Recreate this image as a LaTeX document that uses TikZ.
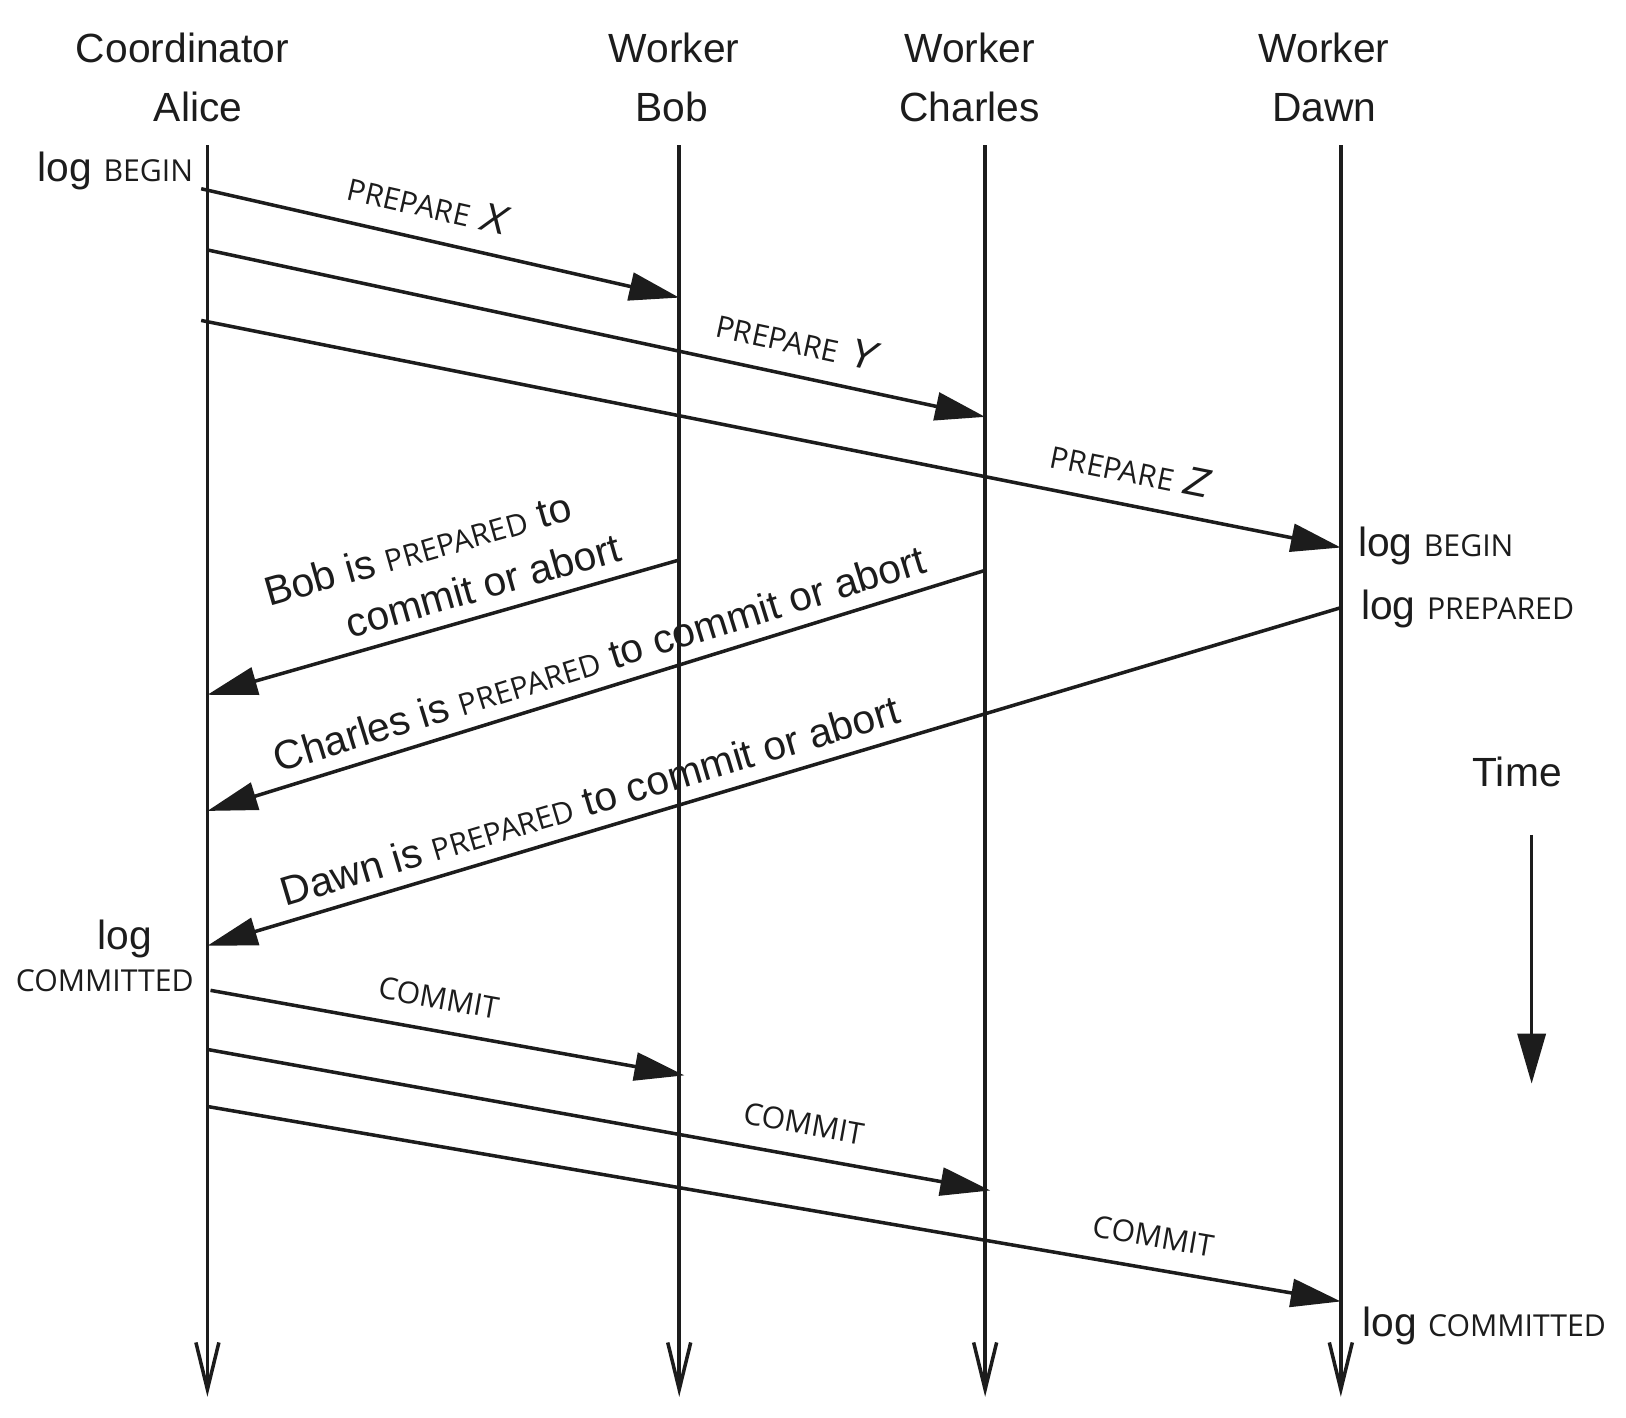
\documentclass[tikz,border=0pt]{standalone}
\usepackage{fontspec}
\setmainfont{Liberation Sans}
\newfontfamily\capsfont{Open Sans}
\usepackage{tikz}
\usetikzlibrary{arrows.meta}
\definecolor{ink}{RGB}{28,28,28}
\newcommand{\kw}[1]{{\capsfont\fontsize{8.6}{10}\selectfont #1}}
\tikzset{
  every picture/.style={color=ink, line width=1pt, font=\fontsize{11.6}{15}\selectfont},
  life/.style={draw=ink, -{Straight Barb[length=4.7mm,width=2.3mm]}},
  msg/.style={draw=ink, -{Triangle[length=5mm,width=2.8mm]}},
  head/.style={anchor=base, inner sep=0pt},
  tag/.style={sloped, above=2mm, inner sep=0pt},
  say/.style={sloped, above=1.3mm, inner sep=0pt},
  logl/.style={anchor=base east, inner sep=0pt},
  logr/.style={anchor=base west, inner sep=0pt},
}

\begin{document}
\begin{tikzpicture}[x=0.1037mm, y=0.1037mm]
  \useasboundingbox (0,0) rectangle (1568,-1367);
  % participants
  \node[head] (aliceRole) at (176,-60) {Coordinator};
  \node[head] (aliceName) at (191,-117) {Alice};
  \node[head] (bobRole) at (650,-60) {Worker};
  \node[head] (bobName) at (648,-117) {Bob};
  \node[head] (charlesRole) at (935,-60) {Worker};
  \node[head] (charlesName) at (935,-117) {Charles};
  \node[head] (dawnRole) at (1277,-60) {Worker};
  \node[head] (dawnName) at (1277,-117) {Dawn};

  \coordinate (aliceTop) at (200,-140);   \coordinate (aliceBot) at (200,-1347);
  \coordinate (bobTop) at (655,-140);     \coordinate (bobBot) at (655,-1347);
  \coordinate (charlesTop) at (950,-140); \coordinate (charlesBot) at (950,-1347);
  \coordinate (dawnTop) at (1293,-140);   \coordinate (dawnBot) at (1293,-1347);
  \draw[life] (aliceTop) -- (aliceBot);
  \draw[life] (bobTop) -- (bobBot);
  \draw[life] (charlesTop) -- (charlesBot);
  \draw[life] (dawnTop) -- (dawnBot);

  % phase 1: prepare
  \coordinate (pxA) at (194,-182);  \coordinate (pxB) at (655,-287);
  \coordinate (pyA) at (200,-241);  \coordinate (pyC) at (950,-402);
  \coordinate (pzA) at (194,-309);  \coordinate (pzD) at (1293,-528);
  \draw[msg] (pxA) -- node[tag, pos=0.46] {\kw{PREPARE} \textit{X}} (pxB);
  \draw[msg] (pyA) -- node[tag, pos=0.75] {\kw{PREPARE} \textit{Y}} (pyC);
  \draw[msg] (pzA) -- node[tag, pos=0.81] {\kw{PREPARE} \textit{Z}} (pzD);

  % votes
  \coordinate (vbB) at (655,-540);  \coordinate (vbA) at (200,-670);
  \coordinate (vcC) at (950,-550);  \coordinate (vcA) at (200,-782);
  \coordinate (vdD) at (1293,-586); \coordinate (vdA) at (200,-912);
  \draw[msg] (vbB) -- node[say, pos=0.47, align=left] {Bob is \kw{PREPARED} to\\\hspace*{7mm}commit or abort} (vbA);
  \draw[msg] (vcC) -- node[say, pos=0.485] {Charles is \kw{PREPARED} to commit or abort} (vcA);
  \draw[msg] (vdD) -- node[say, pos=0.655] {Dawn is \kw{PREPARED} to commit or abort} (vdA);

  % phase 2: commit
  \coordinate (cbA) at (203,-955);  \coordinate (cbB) at (660,-1037);
  \coordinate (ccA) at (200,-1012); \coordinate (ccC) at (955,-1148);
  \coordinate (cdA) at (200,-1067); \coordinate (cdD) at (1293,-1255);
  \draw[msg] (cbA) -- node[tag, pos=0.47] {\kw{COMMIT}} (cbB);
  \draw[msg] (ccA) -- node[tag, pos=0.755] {\kw{COMMIT}} (ccC);
  \draw[msg] (cdA) -- node[tag, pos=0.83] {\kw{COMMIT}} (cdD);

  % log records
  \node[logl] (aliceBegin) at (188,-175) {log \kw{BEGIN}};
  \node[align=center, inner sep=0pt, anchor=north] (aliceCommitted) at (101,-885) {\hspace*{4mm}log\\[-3pt]\kw{COMMITTED}};
  \node[logr] (dawnBegin) at (1308,-537) {log \kw{BEGIN}};
  \node[logr] (dawnPrepared) at (1311,-597) {log \kw{PREPARED}};
  \node[logr] (dawnCommitted) at (1312,-1289) {log \kw{COMMITTED}};

  % time axis
  \node[head] (time) at (1463,-758) {Time};
  \coordinate (timeTop) at (1477,-805); \coordinate (timeBot) at (1477,-1045);
  \draw[msg] (timeTop) -- (timeBot);
\end{tikzpicture}
\end{document}
